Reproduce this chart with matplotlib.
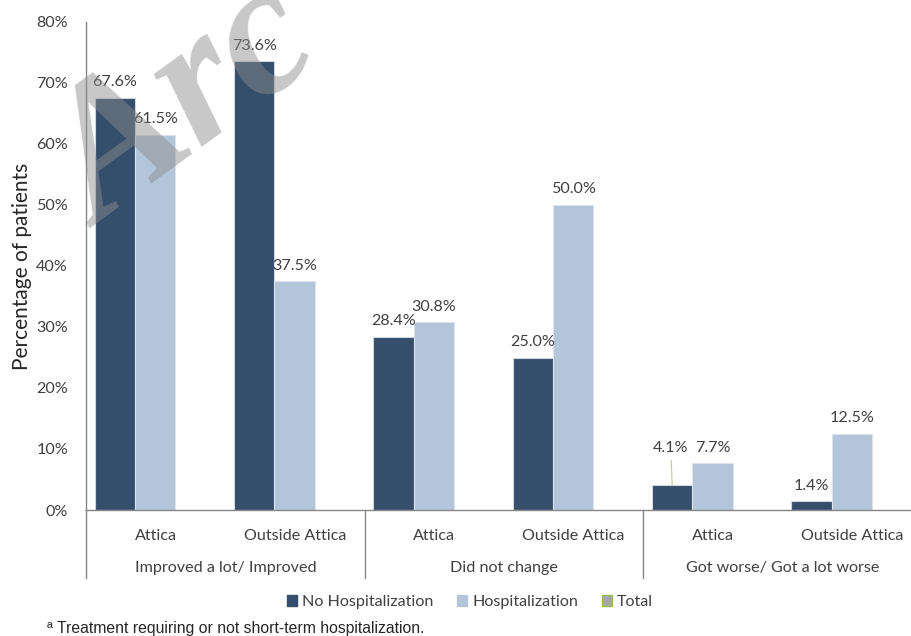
import matplotlib
matplotlib.use("Agg")
import numpy as np
import matplotlib.pyplot as plt
from matplotlib.patches import Patch
from matplotlib.transforms import blended_transform_factory

# data
groups = ["Improved a lot/ Improved", "Did not change", "Got worse/ Got a lot worse"]
regions = ["Attica", "Outside Attica"] * 3
no_hosp = [67.6, 73.6, 28.4, 25.0, 4.1, 1.4]
hosp = [61.5, 37.5, 30.8, 50.0, 7.7, 12.5]
series_names = ["No Hospitalization", "Hospitalization", "Total"]
y_ticks = [0, 10, 20, 30, 40, 50, 60, 70, 80]

dark = "#344e6c"
light = "#b3c5db"
total_col = "#a6a6a6"
txt = "#404040"
font = "Lato"
fs = 11.6

fig = plt.figure(figsize=(9.12, 6.36), dpi=100)
W, H = 912, 636
# axes in pixel terms: left 86, right 922 (cropped), top 22, bottom 510
ax = fig.add_axes([86 / W, (H - 510) / H, 836 / W, 488 / H])

x = np.arange(len(regions))
bw = 0.29
b1 = ax.bar(x + 0.062, no_hosp, bw, align="edge", color=dark,
            edgecolor="#d0d6de", linewidth=0.8)
b2 = ax.bar(x + 0.062 + bw, hosp, bw, align="edge", color=light,
            edgecolor="#dde3ea", linewidth=0.8)

ax.set_xlim(0, len(regions))
ax.set_ylim(0, 80)
ax.set_yticks(y_ticks)
ax.set_yticklabels([f"{t}%" for t in y_ticks], fontsize=fs,
                   color=txt, family=font)
ax.tick_params(axis="y", length=0, pad=13)
ax.set_xticks(x + 0.5)
ax.set_xticklabels(regions, fontsize=fs, color=txt, family=font)
ax.tick_params(axis="x", length=0, pad=14)

for s in ["top", "right"]:
    ax.spines[s].set_visible(False)
for s in ["left", "bottom"]:
    ax.spines[s].set_color("#868686")
    ax.spines[s].set_linewidth(1.0)

ax.set_ylabel("Percentage of patients", fontsize=15, color="#262626",
              family=font, labelpad=3)

# data labels
for bars, vals in [(b1, no_hosp), (b2, hosp)]:
    for b, v in zip(bars, vals):
        cx = b.get_x() + b.get_width() / 2
        if bars is b1 and v == 4.1:
            ax.annotate(f"{v:.1f}%", (cx, v), xytext=(-1, 24), textcoords="offset points",
                        ha="center", va="baseline", fontsize=fs, color=txt, family=font,
                        arrowprops=dict(arrowstyle="-", color="#c8c896", lw=0.8,
                                        shrinkA=2, shrinkB=0))
        else:
            ax.annotate(f"{v:.1f}%", (cx, v), xytext=(0, 8.3), textcoords="offset points",
                        ha="center", va="baseline", fontsize=fs, color=txt, family=font)

# group labels and separators under the axis
tr = blended_transform_factory(ax.transData, ax.transAxes)
for g, name in enumerate(groups):
    ax.text(2 * g + 1, -0.119, name, transform=tr, ha="center", va="center",
            fontsize=fs, color=txt, family=font)
for g in range(len(groups) + 1):
    ax.plot([2 * g, 2 * g], [0, -0.139], transform=tr, color="#868686",
            lw=1.0, clip_on=False)

# legend
handles = [Patch(facecolor=dark, edgecolor=dark),
           Patch(facecolor=light, edgecolor=light),
           Patch(facecolor=total_col, edgecolor="#9bbb59")]
fig.legend(handles, series_names, loc="center", bbox_to_anchor=(470 / W, 1 - 602 / H),
           ncol=3, frameon=False, handlelength=0.62, handleheight=0.62,
           handletextpad=0.3, columnspacing=1.5, borderpad=0,
           prop={"family": font, "size": fs}, labelcolor=txt)

# footnote
fig.text(47 / W, 1 - 628 / H, "ª Treatment requiring or not short-term hospitalization.",
         ha="left", va="center", fontsize=11.3, color="#262626", family="Liberation Sans")

# watermark
fig.text(100 / W, 1 - 228 / H, "Arc", rotation=36, fontsize=136, color="#8c8c8c",
         alpha=0.48, family="Liberation Serif", weight="bold", style="italic",
         ha="left", va="baseline", rotation_mode="anchor")

fig.savefig("out.png", dpi=100)
